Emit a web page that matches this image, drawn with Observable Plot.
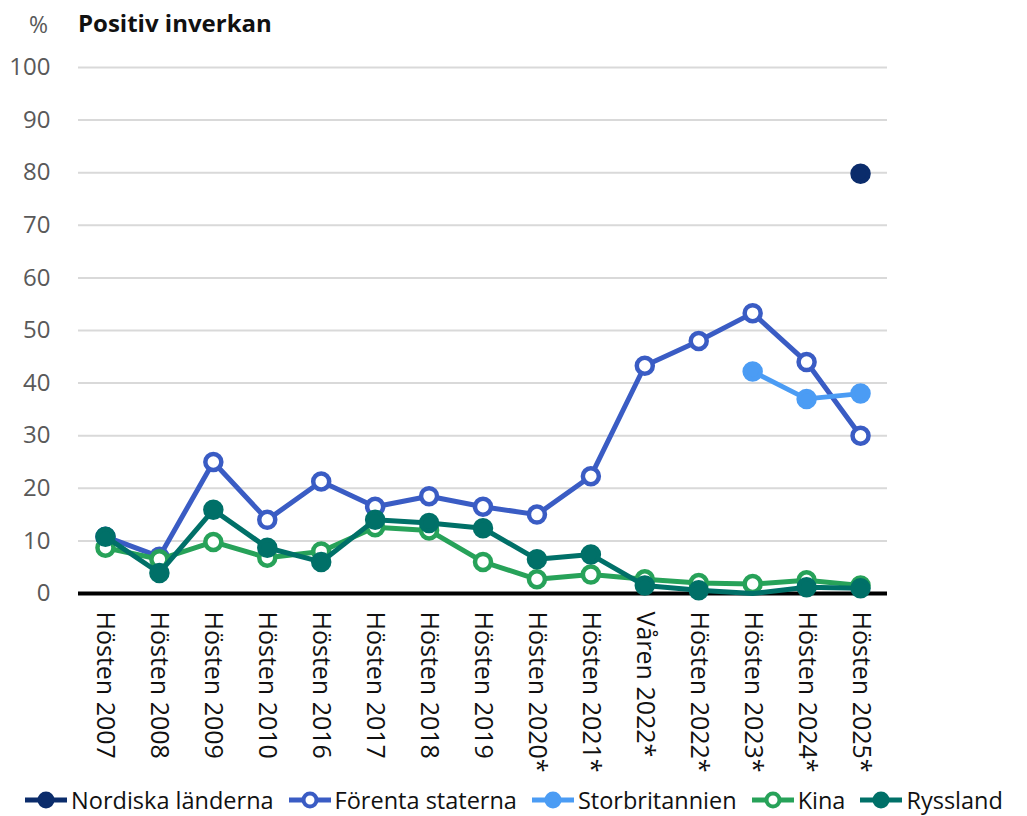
<!DOCTYPE html>
<html>
<head>
<meta charset="utf-8">
<script src="https://cdn.jsdelivr.net/npm/d3@7"></script>
<script src="https://cdn.jsdelivr.net/npm/@observablehq/plot@0.6"></script>
<style>
  body { margin: 0; background: #fff; font-family: "Open Sans", "Noto Sans", sans-serif; }
  #wrap { width: 1027px; height: 816px; position: relative; overflow: hidden; }
  #title { position: relative; height: 45px; }
  #title .pct { position: absolute; left: 29px; top: 8px; font-size: 23px; color: #595959; }
  #title .t { position: absolute; left: 78px; top: 6px; font-size: 24px; font-weight: bold; color: #111; }
  #chart { position: absolute; left: 0; top: 45px; }
  #legend { position: absolute; left: 0; top: 784px; width: 1027px; height: 32px; display: flex; justify-content: center; align-items: center; gap: 14px; font-size: 23.5px; line-height: 32px; color: #111; white-space: nowrap; }
  #legend .item { display: flex; align-items: center; gap: 3px; }
  #legend svg { display: block; }
</style>
</head>
<body>
<div id="wrap">
  <div id="title"><span class="pct">%</span><span class="t">Positiv inverkan</span></div>
  <div id="chart"></div>
  <div id="legend"></div>
</div>
<script>
const categories = ["Hösten 2007","Hösten 2008","Hösten 2009","Hösten 2010","Hösten 2016","Hösten 2017","Hösten 2018","Hösten 2019","Hösten 2020*","Hösten 2021*","Våren 2022*","Hösten 2022*","Hösten 2023*","Hösten 2024*","Hösten 2025*"];
const nordiska       = [null,null,null,null,null,null,null,null,null,null,null,null,null,null,79.8];
const forenta        = [10.8,7,25,14,21.3,16.5,18.5,16.5,15,22.3,43.3,48,53.3,44,30];
const storbritannien = [null,null,null,null,null,null,null,null,null,null,null,null,42.2,37,38];
const kina           = [8.7,6.5,9.8,6.8,8,12.6,12,6,2.7,3.6,2.7,2,1.8,2.5,1.5];
const ryssland       = [10.8,3.9,15.9,8.7,6,14,13.4,12.4,6.5,7.4,1.5,0.6,0,1.2,1];
const yTicks = [0,10,20,30,40,50,60,70,80,90,100];

const series = [
  {name: "Nordiska länderna", values: nordiska, color: "#0b2c6b", open: false},
  {name: "Förenta staterna", values: forenta, color: "#3a5cc4", open: true},
  {name: "Storbritannien", values: storbritannien, color: "#4b9cf4", open: false},
  {name: "Kina", values: kina, color: "#27a259", open: true},
  {name: "Ryssland", values: ryssland, color: "#007068", open: false}
];

const marks = [
  Plot.gridY(yTicks, {stroke: "#d9d9d9", strokeOpacity: 1, strokeWidth: 2}),
  Plot.axisY(yTicks, {tickSize: 0, tickPadding: 28, fontSize: 24, fill: "#595959"}),
  Plot.axisX({tickRotate: 90, tickSize: 0, tickPadding: 18, fontSize: 25, fill: "#111"}),
  Plot.ruleY([0], {stroke: "#000", strokeWidth: 4})
];
for (const s of series) {
  const rows = categories.map((c, i) => ({cat: c, v: s.values[i]}));
  marks.push(Plot.line(rows, {x: "cat", y: "v", stroke: s.color, strokeWidth: 5, curve: "linear"}));
  marks.push(Plot.dot(rows.filter(d => d.v != null && d.v > 0), {x: "cat", y: "v", r: 8, stroke: s.color, strokeWidth: 4.5, fill: s.open ? "#fff" : s.color}));
}

const chart = Plot.plot({
  width: 1027,
  height: 739,
  marginLeft: 78,
  marginRight: 140,
  marginTop: 22,
  marginBottom: 191,
  style: {fontFamily: "'Open Sans', 'Noto Sans', sans-serif", background: "#fff"},
  x: {type: "point", domain: categories, padding: 0.5, round: false, label: null},
  y: {domain: [0, 100], label: null},
  marks
});
document.getElementById("chart").appendChild(chart);

const legend = document.getElementById("legend");
for (const s of series) {
  const item = document.createElement("div");
  item.className = "item";
  const fill = s.open ? "#fff" : s.color;
  item.innerHTML = `<svg width="44" height="24"><line x1="1" x2="43" y1="12" y2="12" stroke="${s.color}" stroke-width="5"/><circle cx="22" cy="12" r="6.5" fill="${fill}" stroke="${s.color}" stroke-width="4"/></svg><span>${s.name}</span>`;
  legend.appendChild(item);
}
</script>
</body>
</html>
